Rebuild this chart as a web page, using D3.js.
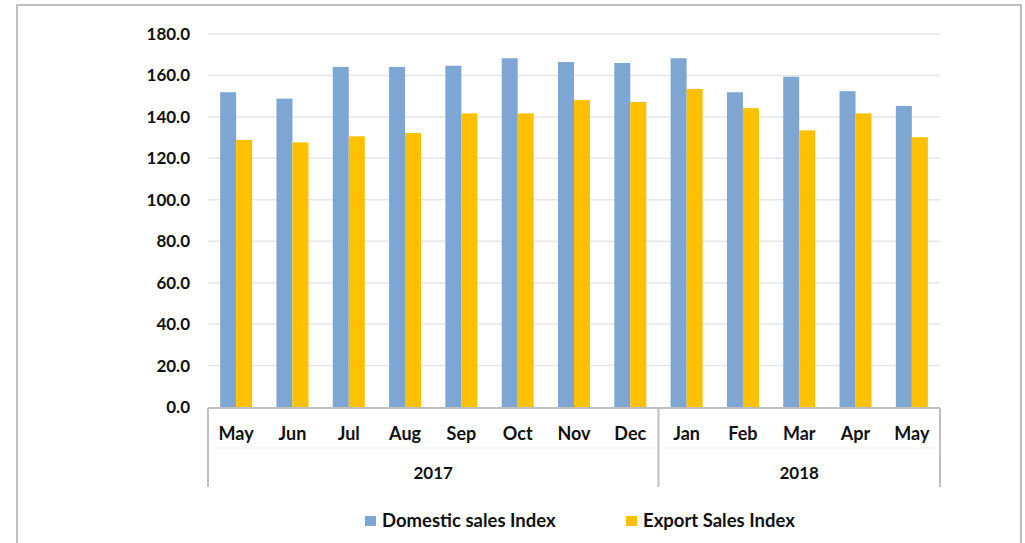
<!DOCTYPE html>
<html>
<head>
<meta charset="utf-8">
<script src="https://cdn.jsdelivr.net/npm/d3@7"></script>
<style>
  html, body { margin: 0; padding: 0; background: #fff; }
  svg { display: block; font-family: Lato, "Open Sans", sans-serif; }
</style>
</head>
<body>
<svg id="chart" width="1025" height="543"></svg>
<script>
  // month / year categories
  const months = ['May', 'Jun', 'Jul', 'Aug', 'Sep', 'Oct', 'Nov', 'Dec', 'Jan', 'Feb', 'Mar', 'Apr', 'May'];
  const years = [
    { label: '2017', start: 0, end: 8 },
    { label: '2018', start: 8, end: 13 }
  ];
  const seriesNames = ['Domestic sales Index', 'Export Sales Index'];
  const domestic = [151.9, 148.8, 164.1, 164.1, 164.7, 168.3, 166.5, 166.0, 168.3, 151.9, 159.4, 152.4, 145.3];
  const exportIdx = [128.9, 127.7, 130.6, 132.2, 141.7, 141.7, 148.1, 147.2, 153.5, 144.2, 133.5, 141.7, 130.2];
  const yTicks = [0, 20, 40, 60, 80, 100, 120, 140, 160, 180];
  const colors = ['#7ea6d2', '#ffc000'];

  (function () {
    const svg = d3.select('#chart');
    const plotLeft = 208, plotRight = 940, plotTop = 34, plotBottom = 407;
    const textColor = '#111';

    // outer frame
    svg.append('path')
      .attr('d', 'M17,543 L17,5 L1021,5 L1021,543')
      .attr('fill', 'none')
      .attr('stroke', '#bfbfbf')
      .attr('stroke-width', 2);

    const idx = months.map(function (_, i) { return i; });
    const x = d3.scaleBand().domain(idx).range([plotLeft, plotRight]).paddingInner(0).paddingOuter(0);
    const inner = d3.scaleBand().domain([0, 1]).range([0, x.bandwidth()]).paddingInner(0).paddingOuter(0.76);
    const y = d3.scaleLinear().domain([0, 180]).range([plotBottom, plotTop]);

    // gridlines
    svg.append('g')
      .selectAll('line')
      .data(yTicks.filter(function (t) { return t > 0; }))
      .join('line')
      .attr('x1', plotLeft).attr('x2', plotRight)
      .attr('y1', function (d) { return y(d); })
      .attr('y2', function (d) { return y(d); })
      .attr('stroke', '#e6e6e6')
      .attr('stroke-width', 1.5);

    // y labels
    svg.append('g')
      .selectAll('text')
      .data(yTicks)
      .join('text')
      .attr('x', 190)
      .attr('y', function (d) { return y(d); })
      .attr('dy', '0.35em')
      .attr('text-anchor', 'end')
      .attr('font-size', 17)
      .attr('font-weight', 'bold')
      .attr('fill', textColor)
      .text(function (d) { return d.toFixed(1); });

    // bars
    const series = [domestic, exportIdx];
    series.forEach(function (vals, s) {
      svg.append('g')
        .selectAll('rect')
        .data(vals)
        .join('rect')
        .attr('x', function (d, i) { return x(i) + inner(s); })
        .attr('width', inner.bandwidth())
        .attr('y', function (d) { return y(d); })
        .attr('height', function (d) { return plotBottom - y(d); })
        .attr('fill', colors[s]);
    });

    // category axis
    const axis = svg.append('g');
    axis.append('line')
      .attr('x1', plotLeft).attr('x2', plotRight)
      .attr('y1', plotBottom + 1).attr('y2', plotBottom + 1)
      .attr('stroke', '#bfbfbf').attr('stroke-width', 2);
    axis.append('line')
      .attr('x1', plotLeft).attr('x2', plotRight)
      .attr('y1', 448).attr('y2', 448)
      .attr('stroke', '#f3f3f3').attr('stroke-width', 1);
    const seps = [x(0), x(8), plotRight];
    axis.selectAll('line.sep')
      .data(seps)
      .join('line')
      .attr('class', 'sep')
      .attr('x1', function (d) { return d; })
      .attr('x2', function (d) { return d; })
      .attr('y1', plotBottom + 1).attr('y2', 487)
      .attr('stroke', '#bfbfbf').attr('stroke-width', 2);

    axis.selectAll('text.month')
      .data(months)
      .join('text')
      .attr('class', 'month')
      .attr('x', function (d, i) { return x(i) + x.bandwidth() / 2; })
      .attr('y', 434)
      .attr('dy', '0.35em')
      .attr('text-anchor', 'middle')
      .attr('font-size', 18)
      .attr('font-weight', 'bold')
      .attr('fill', textColor)
      .text(function (d) { return d; });

    axis.selectAll('text.year')
      .data(years)
      .join('text')
      .attr('class', 'year')
      .attr('x', function (d) { return (x(d.start) + (d.end < months.length ? x(d.end) : plotRight)) / 2; })
      .attr('y', 473)
      .attr('dy', '0.35em')
      .attr('text-anchor', 'middle')
      .attr('font-size', 17)
      .attr('font-weight', 'bold')
      .attr('fill', textColor)
      .text(function (d) { return d.label; });

    // legend
    const legendX = [365, 626];
    const legend = svg.append('g')
      .selectAll('g')
      .data(seriesNames)
      .join('g')
      .attr('transform', function (d, i) { return 'translate(' + legendX[i] + ',521)'; });
    legend.append('rect')
      .attr('x', 0).attr('y', -5)
      .attr('width', 11).attr('height', 10)
      .attr('fill', function (d, i) { return colors[i]; });
    legend.append('text')
      .attr('x', 17)
      .attr('dy', '0.35em')
      .attr('font-size', 18.5)
      .attr('font-weight', 'bold')
      .attr('fill', textColor)
      .text(function (d) { return d; });
  })();
</script>
</body>
</html>
